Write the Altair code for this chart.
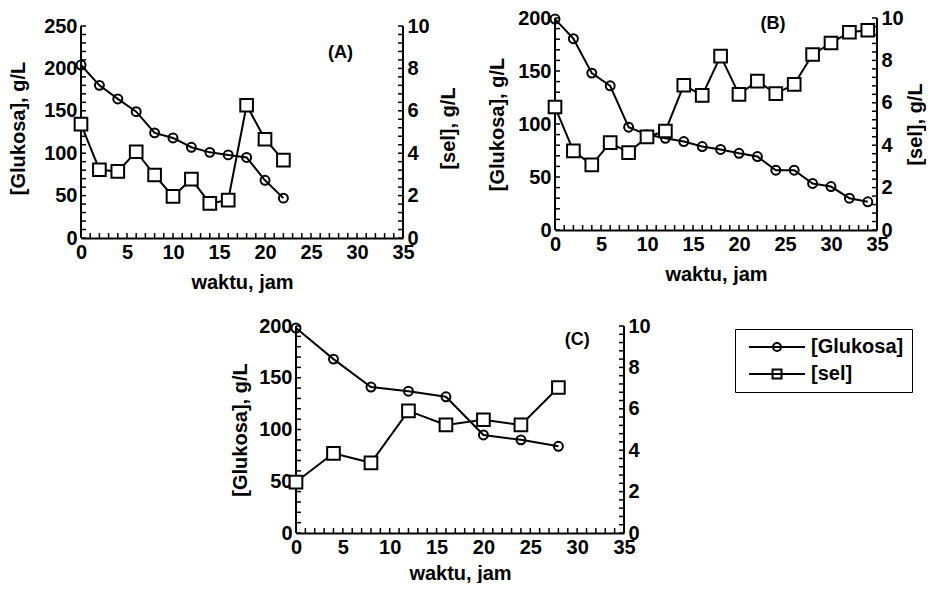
import altair as alt
import pandas as pd

FONT = "Liberation Sans"

# ---------------- data ----------------
t_a = [0, 2, 4, 6, 8, 10, 12, 14, 16, 18, 20, 22]
glukosa_a = [204, 180, 164, 149, 124, 118, 107, 101, 98, 95, 68, 47]
sel_a = [5.37, 3.22, 3.14, 4.07, 2.97, 1.96, 2.78, 1.63, 1.79, 6.26, 4.66, 3.67]

t_b = [0, 2, 4, 6, 8, 10, 12, 14, 16, 18, 20, 22, 24, 26, 28, 30, 32, 34]
glukosa_b = [199, 180.5, 148, 136, 97, 90, 86.5, 83.4, 78.7, 76, 72.4, 69.3,
             56.4, 56.4, 43.9, 41, 30, 26.6]
sel_b = [5.8, 3.73, 3.07, 4.12, 3.65, 4.39, 4.67, 6.83, 6.35, 8.2, 6.4, 7.02,
         6.43, 6.87, 8.28, 8.82, 9.33, 9.42]

t_c = [0, 4, 8, 12, 16, 20, 24, 28]
glukosa_c = [198, 168, 141, 137, 131.6, 94.7, 90, 83.8]
sel_c = [2.46, 3.85, 3.39, 5.9, 5.22, 5.47, 5.22, 7.03]

series_names = ["[Glukosa]", "[sel]"]
panel_tags = ["(A)", "(B)", "(C)"]
x_title = "waktu, jam"
y_left_title = "[Glukosa], g/L"
y_right_title = "[sel], g/L"
x_tick_labels = [0, 5, 10, 15, 20, 25, 30, 35]
right_tick_labels = [0, 2, 4, 6, 8, 10]
x_minor = list(range(0, 36))
right_minor = [round(i * 0.4, 1) for i in range(26)]

# legend symbols: line with circle / line with square (SVG paths, style only)
PATH_GLU = "M-0.57,0H7.43M2.86,0A0.57,0.57 0 1,1 4,0A0.57,0.57 0 1,1 2.86,0"
PATH_SEL = "M-0.57,0H7.43M2.79,-0.64H4.07V0.64H2.79Z"
# stroke-only symbols used to draw inward ticks and the vertical axis lines
UP = "M0,0L0,-1"
RIGHTWARD = "M0,0L1,0"
LEFTWARD = "M0,0L-1,0"
TICK_PX = 5


def panel(t, glu, sel, ymax, w, h, plot_h, tag, tag_x, tag_y, right_title,
          ltp, rtp, xtp=10, with_legend=False):
    # plot_h: height of the drawn axes; h: height of the view (extra room on top)
    df = pd.DataFrame({"t": t, "glu": glu, "sel": sel})
    lmax = ymax * h / plot_h
    rmax = 10 * h / plot_h
    xs = alt.Scale(domain=[0, 35], nice=False, zero=False)
    yl = alt.Scale(domain=[0, lmax], nice=False)
    yr = alt.Scale(domain=[0, rmax], nice=False)
    xaxis = alt.Axis(values=x_tick_labels, title=x_title, orient="bottom", titlePadding=xtp)
    laxis = alt.Axis(values=list(range(0, ymax + 1, 50)), title=y_left_title, orient="left",
                     titlePadding=ltp, domain=False)
    raxis = alt.Axis(values=right_tick_labels, title=right_title, orient="right", titleAngle=270,
                     titlePadding=rtp, domain=False)
    base = alt.Chart(df)
    left_minor = list(range(0, ymax + 1, 10))
    tick_size = (2 * TICK_PX) ** 2
    line_size = (2 * plot_h) ** 2

    def XN(f):
        return alt.X(f, scale=xs, axis=None)

    def YLN(f):
        return alt.Y(f, scale=yl, axis=None)

    def YRN(f):
        return alt.Y(f, scale=yr, axis=None)

    def deco(frame, shape, size, ych, sw=1.5):
        return alt.Chart(frame).mark_point(shape=shape, size=size, filled=False, color="black",
                                           strokeWidth=sw, opacity=1).encode(x=XN("x:Q"), y=ych("y:Q"))

    glu_line = base.mark_line(color="black", strokeWidth=2).encode(
        x=alt.X("t:Q", scale=xs, axis=xaxis), y=alt.Y("glu:Q", scale=yl, axis=laxis))
    glu_pts = base.mark_point(shape="circle", filled=False, color="black", opacity=1,
                              size=80, strokeWidth=2).encode(x=XN("t:Q"), y=YLN("glu:Q"))
    x_ticks = deco(pd.DataFrame({"x": x_minor, "y": 0}), UP, tick_size, YLN)
    l_ticks = deco(pd.DataFrame({"x": 0, "y": left_minor}), RIGHTWARD, tick_size, YLN)
    l_line = deco(pd.DataFrame({"x": [0], "y": [0]}), UP, line_size, YLN, sw=2)
    tag_layer = alt.Chart(pd.DataFrame({"x": [tag_x], "y": [tag_y], "s": [tag]})).mark_text(
        font=FONT, fontSize=18, fontWeight="bold", color="black").encode(
        x=XN("x:Q"), y=YLN("y:Q"), text="s:N"
    )
    left_layers = [glu_line, x_ticks, l_ticks, l_line, glu_pts, tag_layer]

    if with_legend:
        leg = alt.Chart(pd.DataFrame({"s": series_names})).transform_filter(
            "datum.s == 'none'").mark_point(filled=False, color="black", opacity=1, strokeWidth=2).encode(
            x=alt.value(0), y=alt.value(0),
            shape=alt.Shape("s:N", scale=alt.Scale(domain=series_names, range=[PATH_GLU, PATH_SEL]),
                            legend=alt.Legend(
                                orient="none", legendX=439, legendY=3, title=None,
                                labelFont=FONT, labelFontSize=20, labelFontWeight="bold",
                                labelColor="black", labelOffset=48,
                                symbolSize=196, symbolStrokeWidth=2, symbolStrokeColor="black",
                                symbolOpacity=1,
                                strokeColor="black", fillColor="white", padding=8, rowPadding=7)),
        )
        left_layers.append(leg)

    sel_line = base.mark_line(color="black", strokeWidth=2).encode(
        x=XN("t:Q"), y=alt.Y("sel:Q", scale=yr, axis=raxis))
    r_ticks = deco(pd.DataFrame({"x": 35, "y": right_minor}), LEFTWARD, tick_size, YRN)
    r_line = deco(pd.DataFrame({"x": [35], "y": [0]}), UP, line_size, YRN, sw=2)
    sel_pts = base.mark_point(shape="square", filled=True, fill="white", stroke="black", opacity=1,
                              size=160, strokeWidth=2).encode(x=XN("t:Q"), y=YRN("sel:Q"))

    left = alt.layer(*left_layers).resolve_axis(x="independent", y="independent")
    right = alt.layer(sel_line, r_ticks, r_line, sel_pts).resolve_axis(x="independent", y="independent")
    return alt.layer(left, right).resolve_scale(y="independent").resolve_axis(
        x="independent", y="independent").properties(width=w, height=h)


A = panel(t_a, glukosa_a, sel_a, 250, 322, 220, 212, panel_tags[0], 28.2, 218, y_right_title,
          ltp=15, rtp=29)
B = panel(t_b, glukosa_b, sel_b, 200, 322, 212, 212, panel_tags[1], 23.7, 194, y_right_title,
          ltp=10, rtp=22)
C = panel(t_c, glukosa_c, sel_c, 200, 328, 207, 207, panel_tags[2], 30, 186.5, None,
          ltp=8, rtp=10, xtp=6, with_legend=True)

spacer = alt.Chart(pd.DataFrame({"v": [0]})).mark_point(opacity=0).encode(
    x=alt.value(0), y=alt.value(0)).properties(width=149, height=10)

row1 = alt.hconcat(A, B, spacing=28).resolve_scale(shape="independent")
row2 = alt.hconcat(spacer, C, spacing=0).resolve_scale(shape="independent")

chart = alt.vconcat(row1, row2, spacing=24).resolve_scale(shape="independent").properties(
    padding=0
).configure_view(stroke=None).configure_axis(
    labelFont=FONT, labelFontSize=20, labelFontWeight="bold", labelColor="black",
    titleFont=FONT, titleFontSize=20, titleFontWeight="bold", titleColor="black",
    domainColor="black", domainWidth=2, ticks=False, tickSize=0, grid=False,
    labelPadding=4, labelFlush=False, labelOverlap=False,
)

chart.save("out.html", embed_options={"renderer": "svg", "actions": False})
